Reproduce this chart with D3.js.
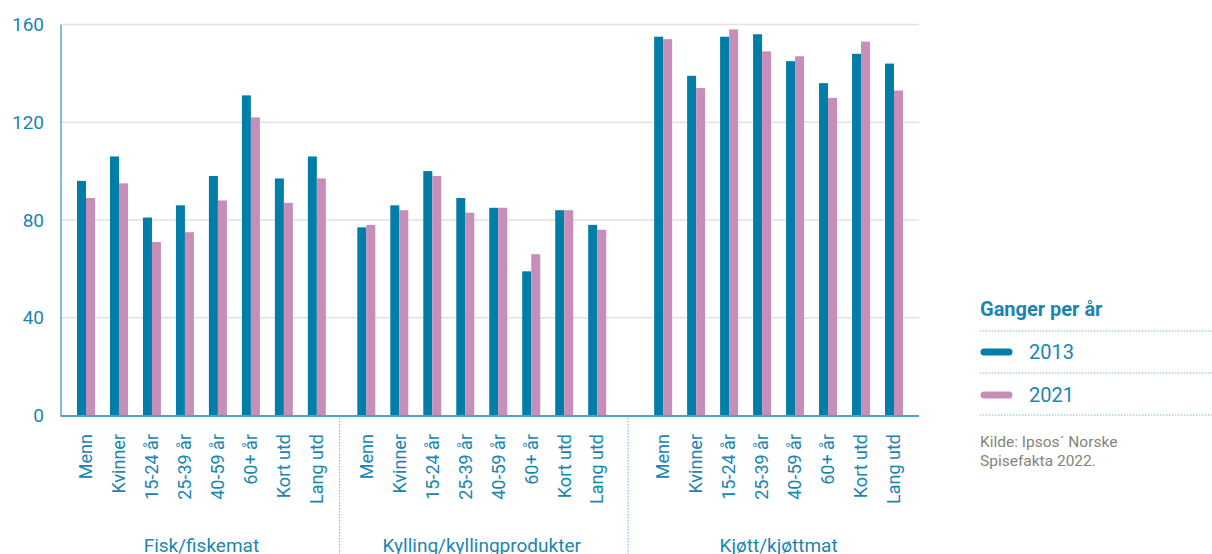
<!DOCTYPE html>
<html>
<head>
<meta charset="utf-8">
<script src="https://cdn.jsdelivr.net/npm/d3@7"></script>
<style>
  html, body { margin: 0; padding: 0; background: #fff; }
  svg { display: block; font-family: Roboto, "Noto Sans", sans-serif; }
</style>
</head>
<body>
<svg id="chart" width="1212" height="554"></svg>
<script>
// ---- data ----
const groups = ["Fisk/fiskemat", "Kylling/kyllingprodukter", "Kjøtt/kjøttmat"];
const categories = ["Menn", "Kvinner", "15-24 år", "25-39 år", "40-59 år", "60+ år", "Kort utd", "Lang utd"];
const years = ["2013", "2021"];
const values2013 = [
  [96, 106, 81, 86, 98, 131, 97, 106],
  [77, 86, 100, 89, 85, 59, 84, 78],
  [155, 139, 155, 156, 145, 136, 148, 144]
];
const values2021 = [
  [89, 95, 71, 75, 88, 122, 87, 97],
  [78, 84, 98, 83, 85, 66, 84, 76],
  [154, 134, 158, 149, 147, 130, 153, 133]
];
const yTicks = [0, 40, 80, 120, 160];
const legendTitle = "Ganger per år";
const sourceLines = ["Kilde: Ipsos´ Norske", "Spisefakta 2022."];

// ---- layout ----
const colors = { "2013": "#007ea8", "2021": "#c88eba" };
const textBlue = "#1a86b0";
const groupStart = [0, 8.5, 17.5];   // slot offset of each group
const svg = d3.select("#chart");

const y = d3.scaleLinear().domain([0, 160]).range([415.5, 24.5]);
const x = d3.scaleLinear().domain([0, 24.5]).range([86, 894]);
const xs = d3.scaleBand().domain(years).range([-9, 9]);
const plotLeft = 61, plotRight = 919;

// gridlines
svg.append("g")
  .selectAll("line").data(yTicks.filter(t => t > 0)).join("line")
  .attr("x1", plotLeft).attr("x2", plotRight)
  .attr("y1", d => y(d)).attr("y2", d => y(d))
  .attr("stroke", "#e2e2e2").attr("stroke-width", 1.5);

// y axis labels
const yAxis = svg.append("g").attr("transform", `translate(${plotLeft},0)`)
  .call(d3.axisLeft(y).tickValues(yTicks).tickSize(0).tickPadding(17));
yAxis.select(".domain").remove();
yAxis.selectAll("text")
  .attr("fill", textBlue).style("font-size", "19px").style("font-family", "Roboto, sans-serif");

// flatten data
const rows = [];
groups.forEach((g, gi) => {
  categories.forEach((c, ci) => {
    rows.push({ g, gi, c, ci, slot: groupStart[gi] + ci,
      vals: [{ year: "2013", v: values2013[gi][ci] }, { year: "2021", v: values2021[gi][ci] }] });
  });
});

// bars
const barG = svg.append("g");
rows.forEach(r => {
  barG.selectAll(null).data(r.vals).join("rect")
    .attr("x", d => x(r.slot) + xs(d.year))
    .attr("width", xs.bandwidth())
    .attr("y", d => y(d.v))
    .attr("height", d => y(0) - y(d.v))
    .attr("fill", d => colors[d.year]);
});

// axis lines
svg.append("line").attr("x1", plotLeft).attr("x2", plotLeft)
  .attr("y1", y(160)).attr("y2", y(0) + 1)
  .attr("stroke", "#5aa8c8").attr("stroke-width", 1.5);
svg.append("line").attr("x1", plotLeft).attr("x2", plotRight)
  .attr("y1", y(0) + 0.5).attr("y2", y(0) + 0.5)
  .attr("stroke", "#4ea3c4").attr("stroke-width", 2);

// category labels
svg.append("g").selectAll("text").data(rows).join("text")
  .attr("transform", d => `translate(${x(d.slot)},434) rotate(-90)`)
  .attr("text-anchor", "end").attr("dy", "0.35em")
  .attr("fill", textBlue).style("font-size", "18px")
  .text(d => d.c);

// group titles
svg.append("g").selectAll("text").data(groups).join("text")
  .attr("x", (d, i) => (x(groupStart[i]) + x(groupStart[i] + categories.length - 1)) / 2)
  .attr("y", 552)
  .attr("text-anchor", "middle")
  .attr("fill", textBlue).style("font-size", "19px")
  .text(d => d);

// group separators
const sepX = [1, 2].map(i => (x(groupStart[i - 1] + categories.length - 1) + x(groupStart[i])) / 2 - 2);
svg.append("g").selectAll("line").data(sepX).join("line")
  .attr("x1", d => d).attr("x2", d => d)
  .attr("y1", 418).attr("y2", 554)
  .attr("stroke", "#6db4d2").attr("stroke-width", 1)
  .attr("stroke-dasharray", "1.5,1.5");

// legend
const lg = svg.append("g");
lg.append("text").attr("x", 980).attr("y", 316)
  .attr("fill", textBlue).style("font-size", "20px").style("font-weight", "bold")
  .text(legendTitle);
[331, 373, 415].forEach(yy => {
  lg.append("line").attr("x1", 980).attr("x2", 1212).attr("y1", yy).attr("y2", yy)
    .attr("stroke", "#7dbad4").attr("stroke-width", 1).attr("stroke-dasharray", "1.5,1.5");
});
years.forEach((yr, i) => {
  const cy = 352 + i * 43;
  lg.append("line").attr("x1", 984).attr("x2", 1009).attr("y1", cy).attr("y2", cy)
    .attr("stroke", colors[yr]).attr("stroke-width", 7).attr("stroke-linecap", "round");
  lg.append("text").attr("x", 1029).attr("y", cy).attr("dy", "0.35em")
    .attr("fill", textBlue).style("font-size", "20px").text(yr);
});

// source
svg.append("g").selectAll("text").data(sourceLines).join("text")
  .attr("x", 980).attr("y", (d, i) => 447 + i * 18.5)
  .attr("fill", "#84847a").style("font-size", "15.5px")
  .text(d => d);
</script>
</body>
</html>
